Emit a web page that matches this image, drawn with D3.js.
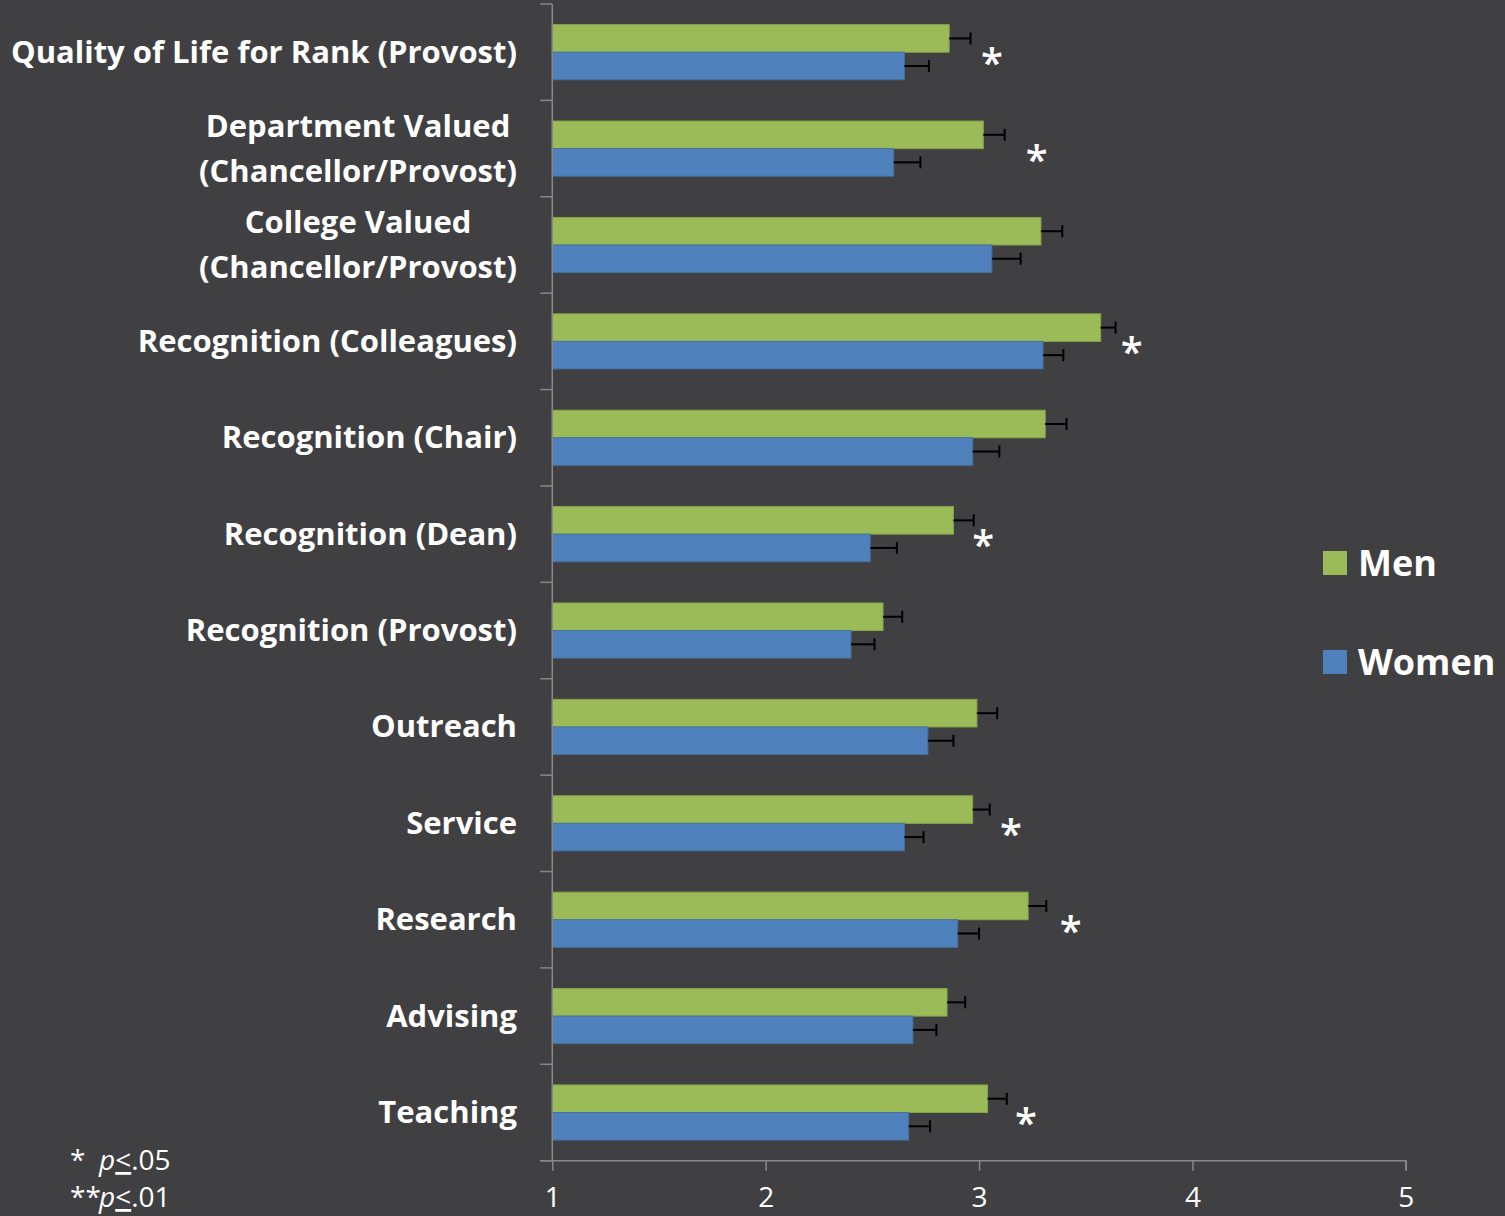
<!DOCTYPE html>
<html>
<head>
<meta charset="utf-8">
<script src="https://cdn.jsdelivr.net/npm/d3@7"></script>
<style>
  html, body { margin: 0; padding: 0; background: #404042; }
  svg { display: block; font-family: "Open Sans", "DejaVu Sans", sans-serif; }
</style>
</head>
<body>
<div id="chart"></div>
<script>
// categories, top to bottom (line breaks as in the original labels)
const categories = [
  ["Quality of Life for Rank (Provost)"],
  ["Department Valued", "(Chancellor/Provost)"],
  ["College Valued", "(Chancellor/Provost)"],
  ["Recognition (Colleagues)"],
  ["Recognition (Chair)"],
  ["Recognition (Dean)"],
  ["Recognition (Provost)"],
  ["Outreach"],
  ["Service"],
  ["Research"],
  ["Advising"],
  ["Teaching"]
];
const series = ["Men", "Women"];
const menValues   = [2.86, 3.02, 3.29, 3.57, 3.31, 2.88, 2.55, 2.99, 2.97, 3.23, 2.85, 3.04];
const womenValues = [2.65, 2.60, 3.06, 3.30, 2.97, 2.49, 2.40, 2.76, 2.65, 2.90, 2.69, 2.67];
const menErr   = [0.10, 0.10, 0.10, 0.07, 0.10, 0.095, 0.09, 0.095, 0.08, 0.085, 0.085, 0.09];
const womenErr = [0.115, 0.125, 0.135, 0.095, 0.125, 0.125, 0.11, 0.12, 0.09, 0.10, 0.11, 0.10];
// significance marks and where they sit on the value axis
const sigMarks = ["*", "*", "", "*", "", "*", "", "", "*", "*", "", "*"];
const sigAt    = [3.06, 3.27, null, 3.715, null, 3.02, null, null, 3.15, 3.43, null, 3.22];
const xTicks = [1, 2, 3, 4, 5];
const notes = [["*", "p", "<", ".05"], ["**", "p", "<", ".01"]];

const colors = { Men: "#9BBB59", Women: "#4F81BD" };
const edge = { Men: "#87A64A", Women: "#46719F" };
const values = { Men: menValues, Women: womenValues };
const errs = { Men: menErr, Women: womenErr };

const W = 1505, H = 1216;
const svg = d3.select("#chart").append("svg")
  .attr("width", W)
  .attr("height", H);
svg.append("rect").attr("width", W).attr("height", H).attr("fill", "#404042");

const x = d3.scaleLinear().domain([1, 5]).range([552.3, 1405.8]);
const y = d3.scaleBand().domain(d3.range(categories.length)).range([4, 1160.7]);
const ys = d3.scaleBand().domain(series).range([0, y.bandwidth()]).paddingOuter(0.75);

const axisColor = "#878787";

// bars
const groups = svg.append("g").selectAll("g")
  .data(categories)
  .join("g")
  .attr("transform", (d, i) => `translate(0,${y(i)})`);

series.forEach(s => {
  groups.append("rect")
    .attr("x", x(1))
    .attr("y", ys(s))
    .attr("width", (d, i) => x(values[s][i]) - x(1))
    .attr("height", ys.bandwidth())
    .attr("fill", colors[s])
    .attr("stroke", edge[s])
    .attr("stroke-width", 1);

  // error bars
  groups.append("line")
    .attr("x1", (d, i) => x(values[s][i]))
    .attr("x2", (d, i) => x(values[s][i] + errs[s][i]))
    .attr("y1", ys(s) + ys.bandwidth() / 2)
    .attr("y2", ys(s) + ys.bandwidth() / 2)
    .attr("stroke", "#000").attr("stroke-width", 2);
  groups.append("line")
    .attr("x1", (d, i) => x(values[s][i] + errs[s][i]))
    .attr("x2", (d, i) => x(values[s][i] + errs[s][i]))
    .attr("y1", ys(s) + ys.bandwidth() / 2 - 6)
    .attr("y2", ys(s) + ys.bandwidth() / 2 + 6)
    .attr("stroke", "#000").attr("stroke-width", 2);
});

// significance asterisks
groups.filter((d, i) => sigMarks[i])
  .append("text")
  .attr("x", (d) => x(sigAt[categories.indexOf(d)]))
  .attr("y", y.bandwidth() / 2 + 25)
  .attr("text-anchor", "middle")
  .attr("fill", "#fff")
  .attr("font-size", 40)
  .attr("font-weight", "600")
  .text(d => sigMarks[categories.indexOf(d)]);

// x axis
const xAxis = svg.append("g")
  .attr("transform", `translate(0,${y.range()[1]})`)
  .call(d3.axisBottom(x).tickValues(xTicks).tickSize(10).tickPadding(16).tickFormat(d3.format("d")));
xAxis.selectAll("path, line").attr("stroke", axisColor).attr("stroke-width", 1.5);
xAxis.select(".domain").attr("d", `M${x(1) - 12},0H${x(5)}V10`);
xAxis.selectAll("text").attr("fill", "#fff").attr("font-size", 28)
  .attr("font-family", "'Open Sans', sans-serif");

// y axis line and category boundary ticks
const yAxis = svg.append("g");
yAxis.append("line")
  .attr("x1", x(1)).attr("x2", x(1))
  .attr("y1", y.range()[0]).attr("y2", y.range()[1])
  .attr("stroke", axisColor).attr("stroke-width", 1.5);
yAxis.selectAll("line.tick")
  .data(d3.range(categories.length + 1))
  .join("line")
  .attr("class", "tick")
  .attr("x1", x(1) - 12).attr("x2", x(1))
  .attr("y1", i => y.range()[0] + i * y.step())
  .attr("y2", i => y.range()[0] + i * y.step())
  .attr("stroke", axisColor).attr("stroke-width", 1.5);

// category labels: block right-aligned, lines centred inside the block
const labelRight = 517;
const labelSize = 31;
const labels = svg.append("g")
  .attr("font-weight", "bold")
  .attr("font-size", labelSize)
  .attr("fill", "#fff");
categories.forEach((lines, i) => {
  const g = labels.append("g");
  const cy = y(i) + y.bandwidth() / 2;
  const lh = 45;
  const texts = lines.map((ln, k) => g.append("text")
    .attr("y", cy + (k - (lines.length - 1) / 2) * lh)
    .attr("dy", "0.34em")
    .attr("text-anchor", "middle")
    .text(ln));
  const wmax = d3.max(texts, t => t.node().getComputedTextLength());
  texts.forEach(t => t.attr("x", labelRight - wmax / 2));
});

// legend
const legend = svg.append("g")
  .selectAll("g")
  .data(series)
  .join("g")
  .attr("transform", (d, i) => `translate(1323,${551 + i * 99})`);
legend.append("rect").attr("width", 24).attr("height", 24).attr("fill", d => colors[d]);
legend.append("text")
  .attr("x", 35).attr("y", 12).attr("dy", "0.36em")
  .attr("fill", "#fff").attr("font-size", 36).attr("font-weight", "bold")
  .text(d => d);

// significance footnote
const note = svg.append("g").attr("fill", "#fff").attr("font-size", 28);
notes.forEach((n, i) => {
  const t = note.append("text").attr("x", 70).attr("y", 1170 + i * 37);
  t.append("tspan").text(n[0]);
  t.append("tspan").attr("x", 99).attr("font-style", "italic").text(n[1]);
  t.append("tspan").attr("text-decoration", "underline").text(n[2]);
  t.append("tspan").text(n[3]);
});
</script>
</body>
</html>
